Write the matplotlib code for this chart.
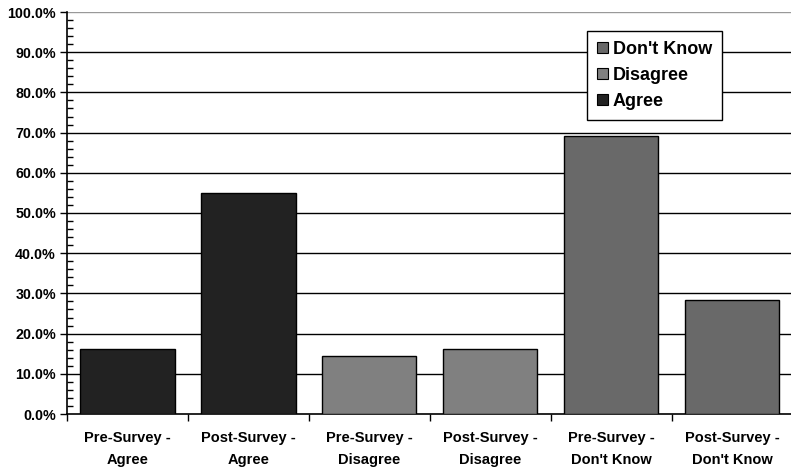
import matplotlib.pyplot as plt
from matplotlib.ticker import MultipleLocator, PercentFormatter
from matplotlib.patches import Patch
import numpy as np

plt.rcParams['font.family'] = ['Liberation Sans', 'DejaVu Sans']

categories = ['Pre-Survey -\nAgree', 'Post-Survey -\nAgree',
              'Pre-Survey -\nDisagree', 'Post-Survey -\nDisagree',
              'Pre-Survey -\nDon\'t Know', 'Post-Survey -\nDon\'t Know']
values = [16.2, 55.0, 14.4, 16.2, 69.1, 28.4]
groups = ['Agree', 'Agree', 'Disagree', 'Disagree', "Don't Know", "Don't Know"]
group_colors = {'Agree': '#222222', 'Disagree': '#808080', "Don't Know": '#696969'}

fig = plt.figure(figsize=(7.91, 4.69), dpi=100)
ax = fig.add_axes([67 / 791, 55 / 469, 1 - 67 / 791 + 0.002, 402 / 469])

x = np.arange(len(categories))
ax.bar(x, values, width=0.78, color=[group_colors[g] for g in groups],
       edgecolor='black', linewidth=1.0, zorder=3)

ax.set_xlim(-0.5, len(categories) - 0.5)
ax.set_ylim(0, 100)

# gridlines every 10%, top one lighter
for v in range(10, 100, 10):
    ax.axhline(v, color='black', linewidth=1.0, zorder=1)
ax.axhline(100, color='#999999', linewidth=1.0, zorder=1)

ax.yaxis.set_major_locator(MultipleLocator(10))
ax.yaxis.set_minor_locator(MultipleLocator(2))
ax.yaxis.set_major_formatter(PercentFormatter(decimals=1))
ax.tick_params(axis='y', which='major', direction='out', length=5, width=1,
               labelsize=10.3, pad=3)
ax.tick_params(axis='y', which='minor', direction='in', length=4, width=1)
for lbl in ax.get_yticklabels():
    lbl.set_fontweight('bold')

# category ticks sit between the bars
ax.set_xticks(np.arange(-0.5, len(categories) + 0.5, 1))
ax.set_xticklabels([])
ax.tick_params(axis='x', which='major', direction='out', length=5, width=1)
ax.set_xticks(x, minor=True)
ax.set_xticklabels(categories, minor=True, fontweight='bold', fontsize=10.5,
                   linespacing=1.75)
ax.tick_params(axis='x', which='minor', length=0, pad=12)

for side in ['top', 'right']:
    ax.spines[side].set_visible(False)
ax.spines['left'].set_linewidth(1.2)
ax.spines['bottom'].set_linewidth(1.2)

handles = [Patch(facecolor=group_colors[g], edgecolor='black', linewidth=0.8)
           for g in ["Don't Know", 'Disagree', 'Agree']]
leg = ax.legend(handles, ["Don't Know", 'Disagree', 'Agree'],
                loc='upper left', bbox_to_anchor=(520 / 725, 0.953),
                prop={'weight': 'bold', 'size': 13}, fancybox=False,
                framealpha=1, edgecolor='black', handlelength=0.6,
                handleheight=0.6, handletextpad=0.25, borderpad=0.55,
                labelspacing=0.5, borderaxespad=0)
leg.get_frame().set_linewidth(1.0)
leg.set_zorder(5)

fig.savefig('out.png', dpi=100)
